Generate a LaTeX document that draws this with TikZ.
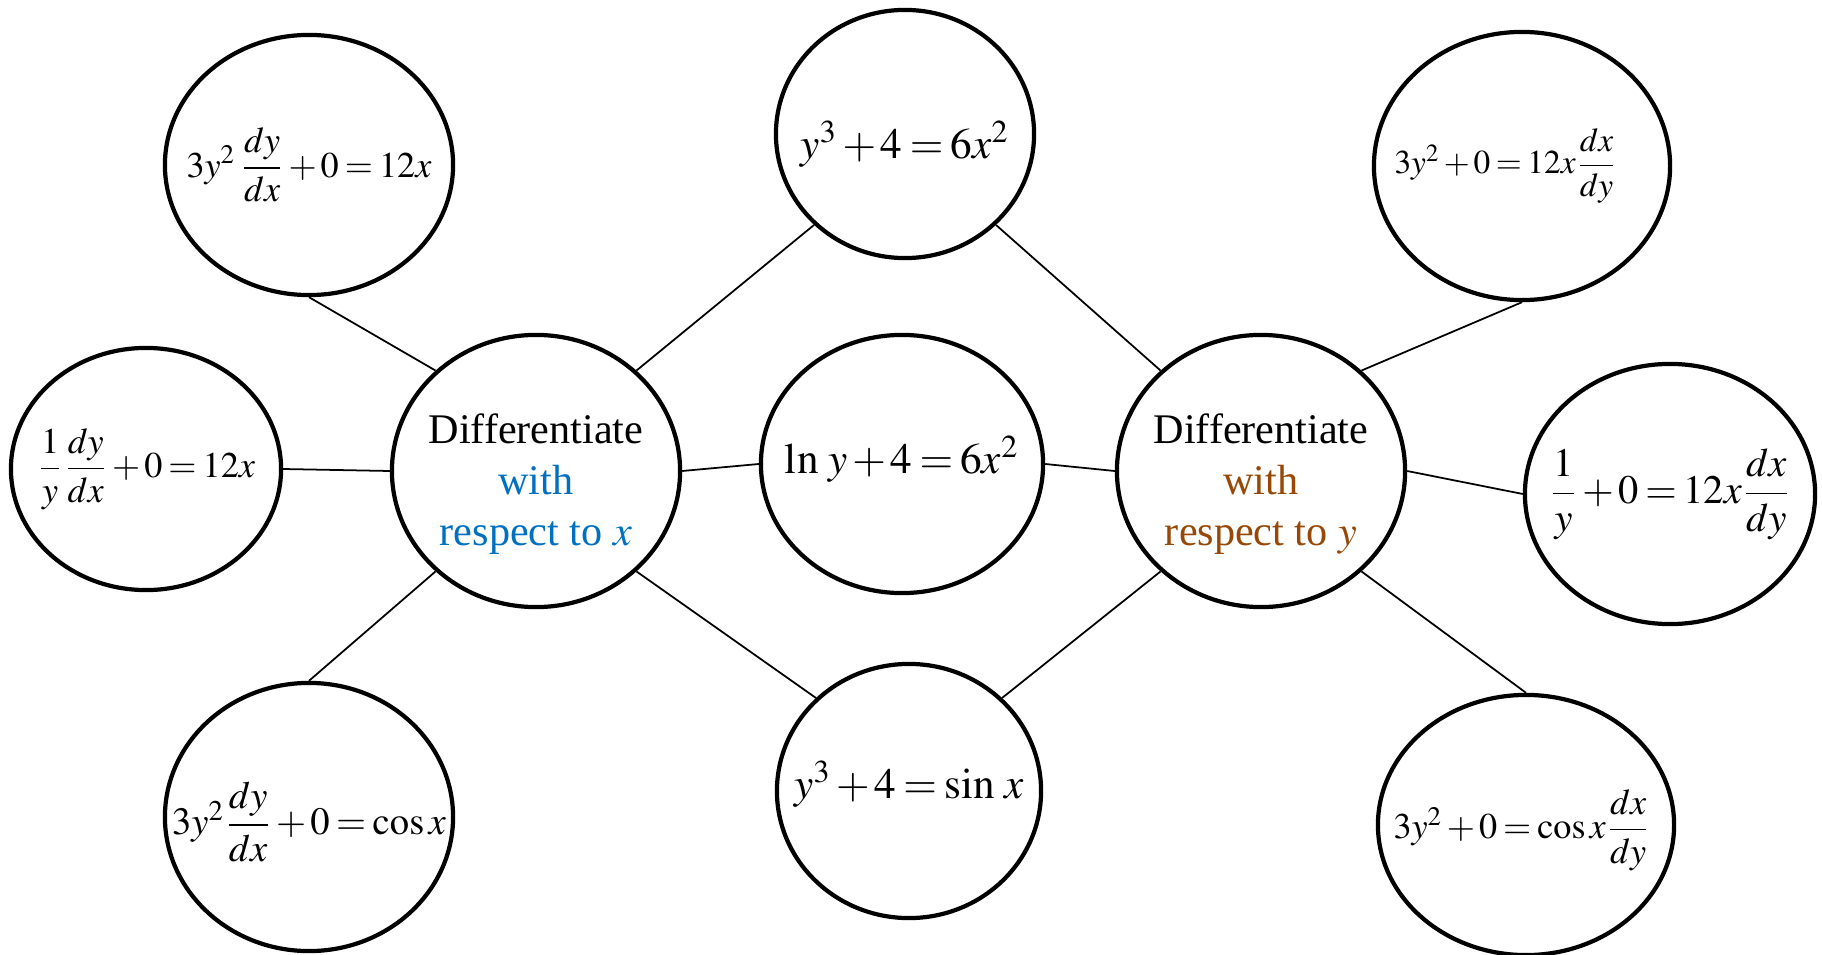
\documentclass[tikz,border=0pt]{standalone}
\usepackage{amsmath}
\usepackage{mathptmx}
\usepackage{fontspec}
\setmainfont{Liberation Serif}
\usepackage{xcolor}
\usetikzlibrary{shapes.geometric}
\definecolor{wrtblue}{RGB}{0,112,192}
\definecolor{wrtbrown}{RGB}{152,72,6}
% tighter spacing round + and =
\thickmuskip=3mu plus 1mu
\medmuskip=2mu plus 1mu
\tikzset{
  bubble/.style={
    ellipse,
    draw=black,
    line width=1.2pt,
    inner sep=0pt,
    fill=white,
  },
  eq text/.style={font=\fontsize{12.3}{15}\selectfont},
  mid eq text/.style={font=\fontsize{11.5}{14}\selectfont},
  left eq text/.style={font=\fontsize{10.3}{13}\selectfont},
  small eq text/.style={font=\fontsize{9.5}{12}\selectfont},
  diff text/.style={font=\fontsize{12}{14.6}\selectfont, align=center, yshift=-0.13cm},
  link/.style={line width=0.5pt},
}

\begin{document}
\begin{tikzpicture}[x=0.01cm, y=-0.01cm]
  \useasboundingbox (0,0) rectangle (1822,955);

  % the two centres
  \node[bubble, minimum width=2.88cm, minimum height=2.72cm,
    label={[diff text]center:Differentiate\\\textcolor{wrtblue}{with}\\\textcolor{wrtblue}{respect to $x$}}]
    (wrtx) at (536,471) {};
  \node[bubble, minimum width=2.88cm, minimum height=2.72cm,
    label={[diff text]center:Differentiate\\\textcolor{wrtbrown}{with}\\\textcolor{wrtbrown}{respect to $y$}}]
    (wrty) at (1261,471) {};

  % middle column
  \node[bubble, minimum width=2.58cm, minimum height=2.48cm,
    label={[eq text, yshift=-0.1cm]center:$y^{3}+4=6x^{2}$}] (cube) at (905,134) {};
  \node[bubble, minimum width=2.82cm, minimum height=2.58cm,
    label={[eq text, yshift=0.05cm]center:$\ln\,y+4=6x^{2}$}] (log) at (902,464) {};
  \node[bubble, minimum width=2.64cm, minimum height=2.54cm,
    label={[eq text, yshift=0.07cm]center:$y^{3}+4=\sin\,x$}] (sine) at (909,791) {};

  % left column
  \node[bubble, minimum width=2.88cm, minimum height=2.6cm,
    label={[left eq text]center:$3y^{2}\,\dfrac{dy}{dx}+0=12x$}] (lcube) at (309,165) {};
  \node[bubble, minimum width=2.7cm, minimum height=2.42cm,
    label={[left eq text]center:$\dfrac{1}{y}\dfrac{dy}{dx}+0=12x$}] (llog) at (146,469) {};
  \node[bubble, minimum width=2.88cm, minimum height=2.68cm,
    label={[mid eq text, font=\fontsize{11}{14}\selectfont, yshift=-0.05cm]center:$3y^{2}\dfrac{dy}{dx}+0=\cos x$}] (lsine) at (309,817) {};

  % right column
  \node[bubble, minimum width=2.96cm, minimum height=2.68cm,
    label={[small eq text, xshift=-0.16cm]center:$3y^{2}+0=12x\dfrac{dx}{dy}$}] (rcube) at (1522,166) {};
  \node[bubble, minimum width=2.9cm, minimum height=2.6cm,
    label={[mid eq text]center:$\dfrac{1}{y}+0=12x\dfrac{dx}{dy}$}] (rlog) at (1670,494) {};
  \node[bubble, minimum width=2.96cm, minimum height=2.6cm,
    label={[left eq text, xshift=-0.04cm, yshift=-0.05cm]center:$3y^{2}+0=\cos x\dfrac{dx}{dy}$}] (rsine) at (1526,825) {};

  \draw[link] (lcube.south) -- (wrtx.135);
  \draw[link] (llog.east) -- (wrtx.west);
  \draw[link] (lsine.north) -- (wrtx.225);
  \draw[link] (wrtx.45) -- (cube.225);
  \draw[link] (wrtx.east) -- (log.west);
  \draw[link] (wrtx.-45) -- (sine.135);

  \draw[link] (cube.-45) -- (wrty.135);
  \draw[link] (log.east) -- (wrty.west);
  \draw[link] (sine.45) -- (wrty.225);
  \draw[link] (rcube.south) -- (wrty.45);
  \draw[link] (wrty.east) -- (rlog.west);
  \draw[link] (wrty.-45) -- (rsine.north);
\end{tikzpicture}
\end{document}
